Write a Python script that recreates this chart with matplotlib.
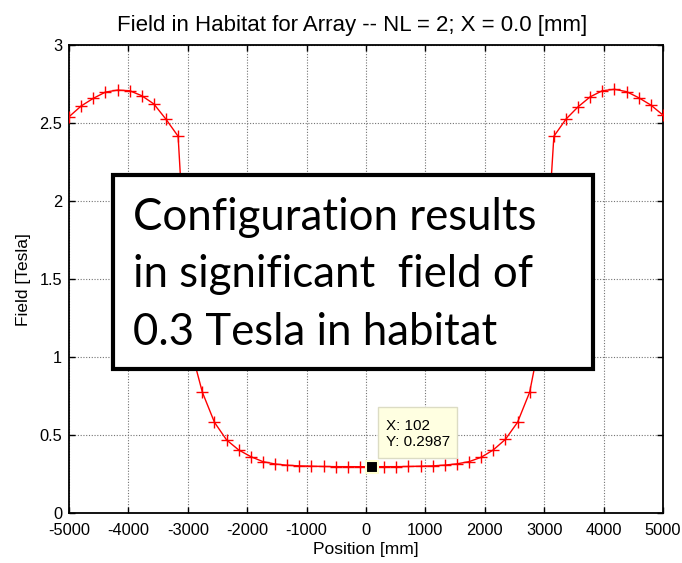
import numpy as np
import matplotlib
matplotlib.use("Agg")
import matplotlib.pyplot as plt
from matplotlib.patches import Rectangle

plt.rcParams['font.family'] = ['Liberation Sans', 'DejaVu Sans']
plt.rcParams['axes.unicode_minus'] = False

# Field magnitude along the habitat axis (50 samples from -5000 to 5000 mm)
position = np.linspace(-5000, 5000, 50)
field = [
    2.542, 2.611, 2.660, 2.700, 2.713, 2.709, 2.677, 2.624, 2.526, 2.417,
    1.070, 0.776, 0.583, 0.470, 0.406, 0.363, 0.331, 0.316, 0.308, 0.304,
    0.302, 0.300, 0.299, 0.299, 0.2987, 0.2987, 0.299, 0.299, 0.300, 0.302,
    0.304, 0.309, 0.317, 0.331, 0.359, 0.406, 0.474, 0.583, 0.776, 1.170,
    2.417, 2.527, 2.606, 2.670, 2.709, 2.718, 2.703, 2.664, 2.617, 2.553,
]
x_ticks = [-5000, -4000, -3000, -2000, -1000, 0, 1000, 2000, 3000, 4000, 5000]
y_ticks = [0, 0.5, 1, 1.5, 2, 2.5, 3]
y_tick_labels = ['0', '0.5', '1', '1.5', '2', '2.5', '3']
tip_index = 25

fig = plt.figure(figsize=(6.82, 5.63), dpi=100)
ax = fig.add_axes([0.1012, 0.0883, 0.8709, 0.8312])

ax.plot(position, field, color='red', lw=1.0, marker='+', ms=9, mew=1.0,
        zorder=3)

ax.set_xlim(-5000, 5000)
ax.set_ylim(0, 3)
ax.set_xticks(x_ticks)
ax.set_xticklabels([str(v) for v in x_ticks])
ax.set_yticks(y_ticks)
ax.set_yticklabels(y_tick_labels)
ax.tick_params(direction='in', length=4, width=1, top=True, right=True,
               labelsize=11.8, colors='black')
ax.tick_params(axis='x', pad=7)
ax.tick_params(axis='y', pad=5)
for sp in ax.spines.values():
    sp.set_linewidth(1.3)
ax.grid(True, color='0.45', linestyle=(0, (1, 1.5)), lw=0.8)
ax.set_axisbelow(True)

ax.set_title('Field in Habitat for Array -- NL = 2; X = 0.0 [mm]',
             fontsize=16, pad=10, x=0.477)
ax.set_xlabel('Position [mm]', fontsize=12.5, labelpad=3)
ax.set_ylabel('Field [Tesla]', fontsize=12.5, labelpad=6)

# data cursor marker and tip
x_tip = position[tip_index]
y_tip = field[tip_index]
ax.plot(x_tip, y_tip, marker='s', ms=8, mfc='black', mec='#ffffd0',
        mew=1.5, zorder=5)
ax.add_patch(Rectangle((x_tip + 100, y_tip + 0.055), 1330, 0.327,
                       fc='#ffffe1', ec='#dcdcc4', lw=1.0, zorder=6))
ax.text(x_tip + 235, y_tip + 0.236, f"X: {x_tip:.0f}", fontsize=11,
        ha='left', va='baseline', zorder=7)
ax.text(x_tip + 235, y_tip + 0.135, f"Y: {y_tip:.4f}", fontsize=11,
        ha='left', va='baseline', zorder=7)

# annotation box
ax.add_patch(Rectangle((0.0736, 0.3077), 0.8081, 0.4152,
                       transform=ax.transAxes, fc='white', ec='black',
                       lw=3.0, zorder=8))
lines = ["Configuration results", "in significant  field of",
         "0.3 Tesla in habitat"]
baselines = [0.6053, 0.4843, 0.3600]
for txt, yb in zip(lines, baselines):
    ax.text(0.1077, yb, txt, transform=ax.transAxes, fontsize=31.5,
            family=['Lato', 'DejaVu Sans'], ha='left', va='baseline',
            zorder=9)

fig.savefig('out.png', dpi=100)
